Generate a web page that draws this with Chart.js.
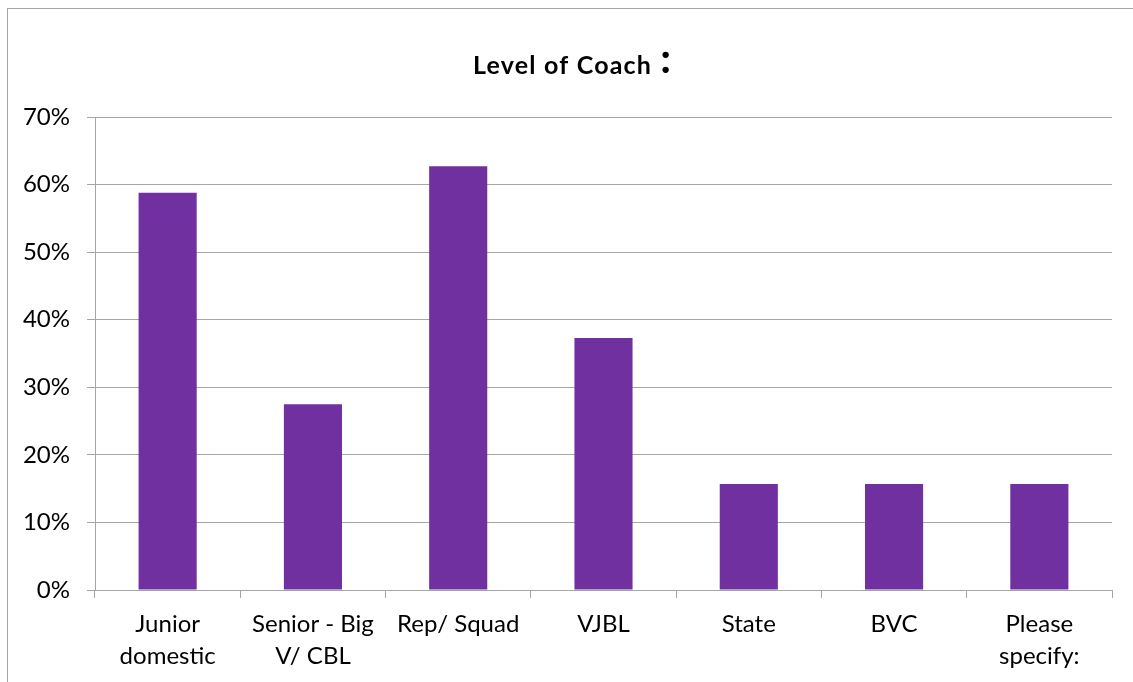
<!DOCTYPE html>
<html>
<head>
<meta charset="utf-8">
<script src="https://cdn.jsdelivr.net/npm/chart.js@4/dist/chart.umd.min.js"></script>
<style>
  html, body { margin: 0; padding: 0; background: #fff; overflow: hidden; }
  #wrap { position: relative; width: 1133px; height: 682px; }
</style>
</head>
<body>
<div id="wrap"><canvas id="coachChart" width="1133" height="682"></canvas></div>
<script>
// --- data ---
const categories = [
    ["Junior", "domestic"],
    ["Senior - Big", "V/ CBL"],
    "Rep/ Squad",
    "VJBL",
    "State",
    "BVC",
    ["Please", "specify:"]
];
const percentValues = [58.8, 27.5, 62.7, 37.3, 15.7, 15.7, 15.7];
const yTicks = [0, 10, 20, 30, 40, 50, 60, 70];

const titleText = "Level of Coach";
const titleSuffix = ":";
const FONT = "Lato, 'Open Sans', sans-serif";
const GRID = "#a6a6a6";

// frame + title (title has a bigger colon, so drawn by hand)
const framePlugin = {
    id: "frame",
    beforeDraw(chart) {
        const c = chart.ctx;
        c.save();
        c.fillStyle = "#fff";
        c.fillRect(0, 0, chart.width, chart.height);
        c.strokeStyle = GRID;
        c.lineWidth = 1;
        c.strokeRect(7.5, 8.5, 1300, 900);
        c.restore();
    },
    afterDraw(chart) {
        const c = chart.ctx;
        c.save();
        c.fillStyle = "#000";
        c.textBaseline = "alphabetic";
        c.textAlign = "left";
        c.letterSpacing = "1.2px";
        c.font = "bold 25px " + FONT;
        const w1 = c.measureText(titleText).width;
        const x = 473;
        c.fillText(titleText, x, 74);
        c.letterSpacing = "0px";
        c.font = "bold 42px " + FONT;
        c.fillText(titleSuffix, x + w1 + 8, 73);
        c.restore();
    }
};

new Chart(document.getElementById("coachChart").getContext("2d"), {
    type: "bar",
    data: {
        labels: categories,
        datasets: [{
            data: percentValues,
            backgroundColor: "#7030a0",
            borderWidth: 0,
            categoryPercentage: 1,
            barPercentage: 0.4
        }]
    },
    options: {
        responsive: false,
        animation: false,
        layout: { padding: { top: 117, right: 21, bottom: 0, left: 0 } },
        plugins: {
            legend: { display: false },
            tooltip: { enabled: false },
            title: { display: false }
        },
        scales: {
            x: {
                grid: {
                    offset: true,
                    drawOnChartArea: false,
                    drawTicks: true,
                    tickLength: 8,
                    color: GRID
                },
                border: { color: GRID },
                ticks: {
                    color: "#000",
                    font: { family: FONT, size: 24, lineHeight: 1.34 },
                    padding: 10,
                    maxRotation: 0,
                    autoSkip: false
                },
                afterFit(scale) { scale.height = 92; }
            },
            y: {
                min: 0,
                max: 70,
                afterBuildTicks(scale) {
                    scale.ticks = yTicks.map(v => ({ value: v }));
                },
                grid: { color: GRID, tickLength: 8 },
                border: { color: GRID },
                ticks: {
                    color: "#000",
                    font: { family: FONT, size: 24 },
                    padding: 17,
                    callback: v => v + "%"
                },
                afterFit(scale) { scale.width = 95; }
            }
        }
    },
    plugins: [framePlugin]
});
</script>
</body>
</html>
